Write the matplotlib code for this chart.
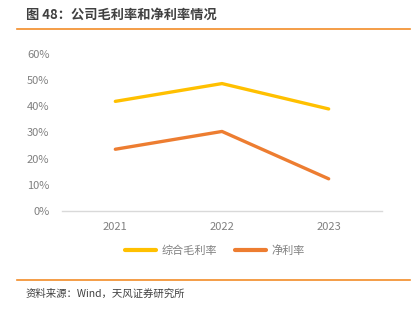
import matplotlib.pyplot as plt
from matplotlib.lines import Line2D

plt.rcParams['font.family'] = ['Noto Sans CJK SC', 'DejaVu Sans']

years = ['2021', '2022', '2023']
gross_margin = [0.419, 0.487, 0.390]
net_margin = [0.236, 0.304, 0.123]
yticks = [0, 0.1, 0.2, 0.3, 0.4, 0.5, 0.6]
ytick_labels = ['0%', '10%', '20%', '30%', '40%', '50%', '60%']

W, H = 419, 322
fig = plt.figure(figsize=(W / 100, H / 100), dpi=100)

# title and orange rules
fig.text(26 / W, 1 - 15 / H, '图 48：公司毛利率和净利率情况', fontsize=9.5,
         fontweight='bold', color='#404040', va='center', ha='left')
fig.add_artist(Line2D([17 / W, 410 / W], [1 - 29 / H, 1 - 29 / H], color='#F28C28', lw=1.2))
fig.add_artist(Line2D([17 / W, 410 / W], [1 - 280 / H, 1 - 280 / H], color='#F28C28', lw=1.2))
fig.text(26 / W, 1 - 294 / H, '资料来源：Wind，天风证券研究所', fontsize=7.5,
         color='#404040', va='center', ha='left')

ax = fig.add_axes([62 / W, 1 - 211 / H, 320 / W, 157 / H])
x = range(len(years))
ax.plot(x, gross_margin, color='#FFC000', lw=2.4, label='综合毛利率', solid_capstyle='round')
ax.plot(x, net_margin, color='#ED7D31', lw=2.4, label='净利率', solid_capstyle='round')

ax.set_xlim(-0.5, 2.5)
ax.set_ylim(0, 0.6)
ax.set_yticks(yticks)
ax.set_yticklabels(ytick_labels)
ax.set_xticks(list(x))
ax.set_xticklabels(years)
ax.tick_params(axis='both', length=0, colors='#808080', labelsize=8)
ax.tick_params(axis='y', pad=9)
ax.tick_params(axis='x', pad=8)
for s in ['top', 'right', 'left']:
    ax.spines[s].set_visible(False)
ax.spines['bottom'].set_color('#D9D9D9')
ax.spines['bottom'].set_linewidth(1)

leg = fig.legend(loc='center', bbox_to_anchor=(215 / W, 1 - 251 / H), ncol=2, frameon=False,
                 fontsize=8, handlelength=2.8, columnspacing=1.6, handletextpad=0.5)
for t in leg.get_texts():
    t.set_color('#808080')
for h in leg.legend_handles:
    h.set_linewidth(3)

fig.savefig('out.png', dpi=100)
